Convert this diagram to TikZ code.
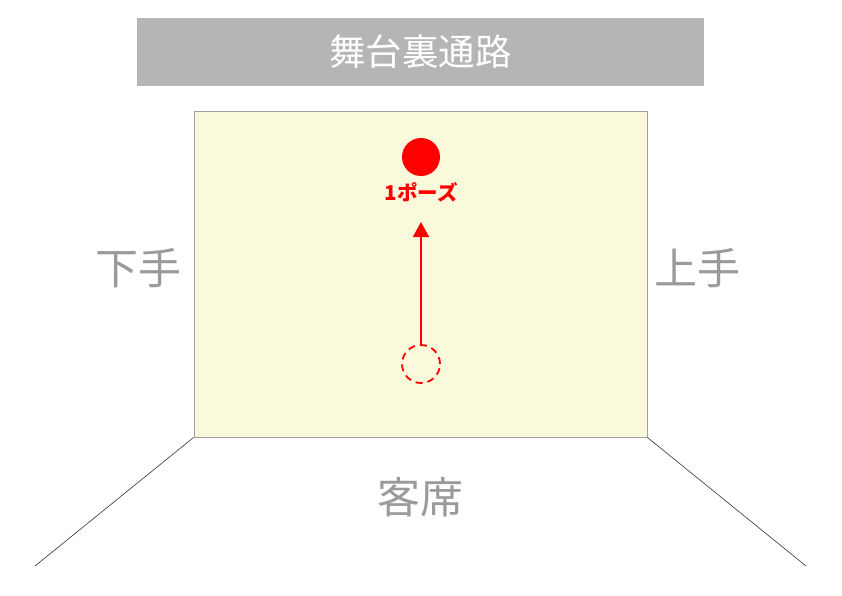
\documentclass[tikz,border=0pt]{standalone}
\usepackage{fontspec}
\newfontfamily\cjk{Noto Sans CJK JP}
\usetikzlibrary{arrows.meta}
\definecolor{banner}{HTML}{B5B5B6}
\definecolor{stagefill}{HTML}{FAF9DC}
\definecolor{stageedge}{HTML}{A0A0A0}
\definecolor{labelgray}{HTML}{9A9A9A}
\definecolor{pred}{HTML}{FF0000}
\tikzset{
  sidelabel/.style={font=\cjk\fontsize{43}{43}\selectfont, text=labelgray, inner sep=0pt},
  posmark/.style={circle, minimum size=38pt, inner sep=0pt},
}
\begin{document}
\begin{tikzpicture}[x=1pt,y=-1pt]
\useasboundingbox (0,0) rectangle (842,595);
\fill[white] (0,0) rectangle (842,595);
% banner
\node[fill=banner, minimum width=567pt, minimum height=68pt, inner sep=0pt,
  font=\cjk\fontsize{36.5}{36.5}\selectfont, text=white] (banner) at (420.5,52) {舞台裏通路};
% stage
\node[draw=stageedge, fill=stagefill, line width=0.9pt, minimum width=453pt, minimum height=326pt, inner sep=0pt] (stage) at (420.5,274) {};
% audience lines
\coordinate (ll) at (35,566);
\coordinate (lr) at (806,566);
\draw[line width=0.6pt, black!80] (stage.south west) -- (ll);
\draw[line width=0.6pt, black!80] (stage.south east) -- (lr);
% labels
\node[sidelabel] (shimote) at (138,268) {下手};
\node[sidelabel] (kamite) at (697,268) {上手};
\node[sidelabel] (kyakuseki) at (420,497) {客席};
% positions
\node[posmark, fill=pred] (pose) at (421,157) {};
\node[font=\cjk\bfseries\fontsize{20.5}{20.5}\selectfont, text=pred, inner sep=0pt] (poselabel) at (421,192) {1ポーズ};
\node[posmark, draw=pred, line width=1.8pt, dash pattern=on 7pt off 5pt] (start) at (421,364) {};
\draw[pred, line width=1.8pt, -{Triangle[length=15pt,width=16pt]}] (start.north) -- (421,222);
\end{tikzpicture}
\end{document}
